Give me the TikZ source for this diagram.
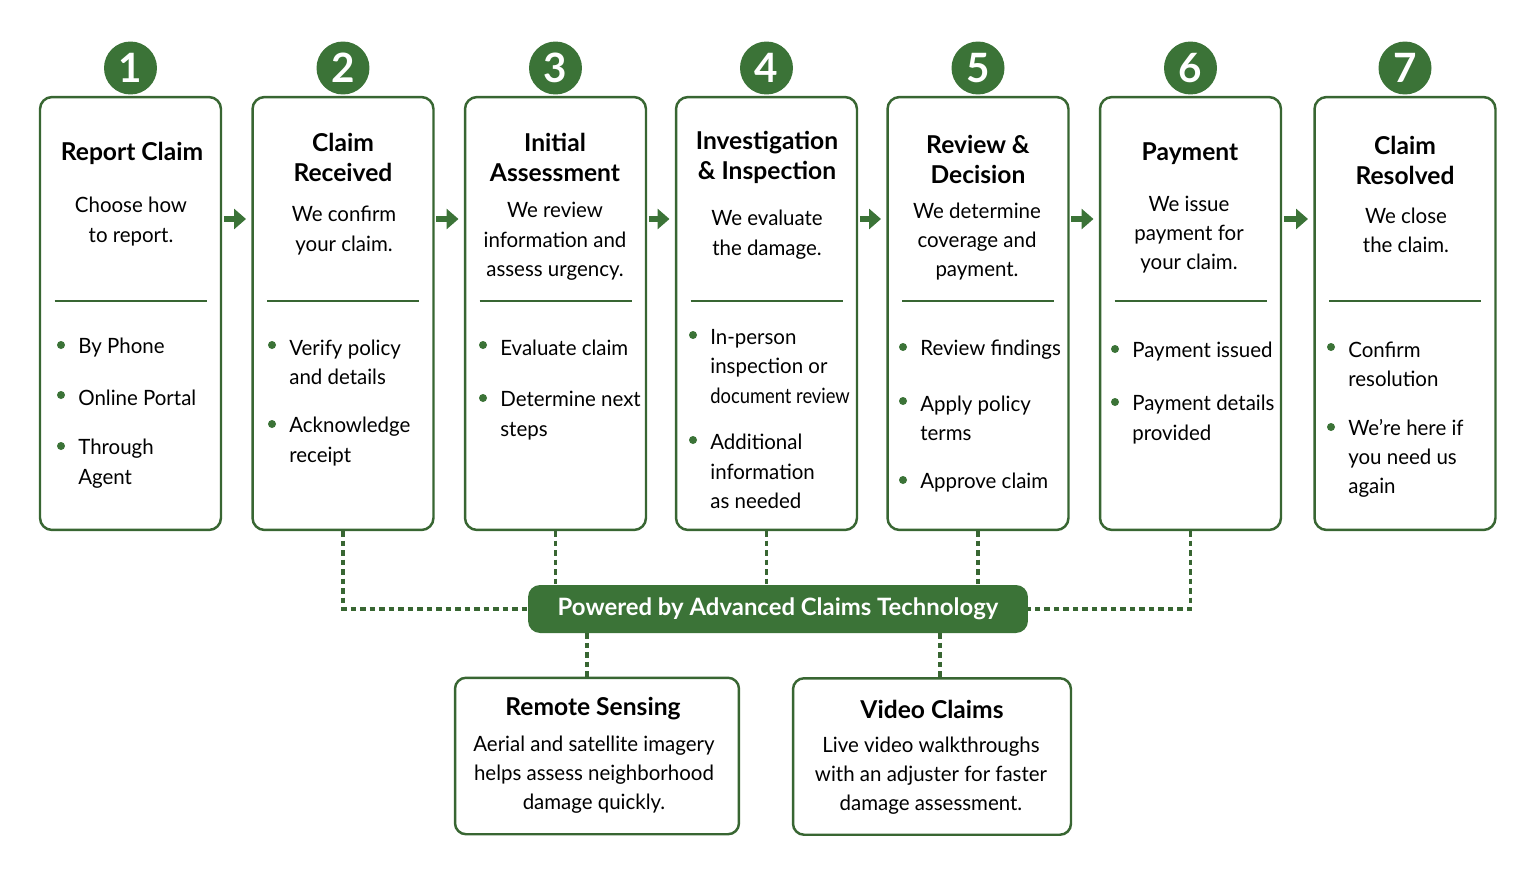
\documentclass[tikz,border=0pt]{standalone}
\usepackage{fontspec}
\setmainfont{Lato}
\newfontfamily\bodyfont[FakeStretch=0.97]{Lato}
\newfontfamily\squeezefont[FakeStretch=0.87]{Lato}
\usetikzlibrary{arrows.meta,positioning}

\definecolor{claimgreen}{RGB}{59,115,55}
\definecolor{claimedge}{RGB}{56,102,50}

\tikzset{
  stepbox/.style={draw=claimedge, line width=1.4pt, rounded corners=0.24cm,
    fill=white, minimum width=3.62cm, minimum height=8.66cm, inner sep=0pt},
  stepnum/.style={circle, fill=claimgreen, minimum size=1.06cm, inner sep=0pt,
    text=white, font=\fontsize{23}{23}\selectfont\bfseries},
  steptitle/.style={align=center, inner sep=0pt, yshift=-0.05cm,
    font=\fontsize{14}{17}\selectfont\bfseries},
  stepdesc/.style={align=center, inner sep=0pt, yshift=-0.05cm,
    font=\bodyfont\fontsize{12}{16.7}\selectfont},
  itemtext/.style={align=left, inner sep=0pt, anchor=west, yshift=-0.05cm,
    font=\bodyfont\fontsize{12}{16.7}\selectfont},
  sepline/.style={draw=claimedge, line width=1pt},
  flowarrow/.style={claimgreen, line width=0.12cm,
    -{Triangle[length=0.24cm,width=0.4cm]}, shorten <=1pt, shorten >=3pt},
  techbox/.style={fill=claimgreen, rounded corners=0.24cm, minimum width=10cm,
    minimum height=0.96cm, inner sep=0pt, text=white,
    font=\fontsize{13.6}{15}\selectfont\bfseries},
  toolbox/.style={draw=claimedge, line width=1.4pt, rounded corners=0.22cm,
    fill=white, minimum height=3.13cm, inner sep=0pt},
  techlink/.style={claimedge, line width=0.07cm, dash pattern=on 0.11cm off 0.08cm},
}

% bullet: name, dot x, first line y, centre y, text
\newcommand{\claimitem}[5]{%
  \fill[claimgreen] (#2,#3) circle (0.08cm);
  \node[itemtext] (#1) at (#2+17,#4) {#5};
}

\begin{document}
\begin{tikzpicture}[x=0.02cm,y=-0.02cm]
  \useasboundingbox (0,0) rectangle (1536,879);

  % steps
  \foreach \i/\cx in {1/130.5, 2/343, 3/555.5, 4/766.5, 5/978, 6/1190.5, 7/1405} {
    \node[stepbox] (box\i) at (\cx,313.5) {};
    \node[stepnum] (num\i) at (\cx,68) {\i};
    \draw[sepline] (\cx-76,301) -- (\cx+76,301);
  }
  \foreach \i/\j in {1/2, 2/3, 3/4, 4/5, 5/6, 6/7}
    \draw[flowarrow] (box\i.east |- 0,219) -- (box\j.west |- 0,219);

  % titles
  \node[steptitle] (title1) at (132,151) {Report Claim};
  \node[steptitle] (title2) at (343,155) {Claim\\Received};
  \node[steptitle] (title3) at (555,155) {Initial\\Assessment};
  \node[steptitle] (title4) at (767,155) {Investigation\\\& Inspection};
  \node[steptitle] (title5) at (978,157) {Review \&\\Decision};
  \node[steptitle] (title6) at (1190,151) {Payment};
  \node[steptitle] (title7) at (1405,158) {Claim\\Resolved};

  % descriptions
  \node[stepdesc] (desc1) at (131,219) {Choose how\\to report.};
  \node[stepdesc] (desc2) at (344,228) {We confirm\\your claim.};
  \node[stepdesc] (desc3) at (555,239) {We review\\information and\\assess urgency.};
  \node[stepdesc] (desc4) at (767,232) {We evaluate\\the damage.};
  \node[stepdesc] (desc5) at (977,239) {We determine\\coverage and\\payment.};
  \node[stepdesc] (desc6) at (1189,232) {We issue\\payment for\\your claim.};
  \node[stepdesc] (desc7) at (1406,228) {We close\\the claim.};

  % bullets
  \claimitem{item1a}{61}{345}{345}{By Phone}
  \claimitem{item1b}{61}{395}{395}{Online Portal}
  \claimitem{item1c}{61}{446}{461}{Through\\Agent}
  \claimitem{item2a}{272}{345}{360}{Verify policy\\and details}
  \claimitem{item2b}{272}{424}{439}{Acknowledge\\receipt}
  \claimitem{item3a}{483}{345}{345}{Evaluate claim}
  \claimitem{item3b}{483}{398}{413}{Determine next\\steps}
  \claimitem{item4a}{693}{335}{364}{In-person\\inspection or\\{\squeezefont document review}}
  \claimitem{item4b}{693}{440}{469}{Additional\\information\\as needed}
  \claimitem{item5a}{903}{347}{347}{Review findings}
  \claimitem{item5b}{903}{401}{415.5}{Apply policy\\terms}
  \claimitem{item5c}{903}{480}{480}{Approve claim}
  \claimitem{item6a}{1115}{349}{349}{Payment issued}
  \claimitem{item6b}{1115}{402}{417}{Payment details\\provided}
  \claimitem{item7a}{1331}{347}{361.5}{Confirm\\resolution}
  \claimitem{item7b}{1331}{427}{456}{We’re here if\\you need us\\again}

  % technology
  \node[techbox] (tech) at (778,609) {Powered by Advanced Claims Technology};
  \node[toolbox, minimum width=5.68cm] (remote) at (597,756) {};
  \node[toolbox, minimum width=5.56cm] (video) at (932,756.5) {};
  \node[steptitle] (remotetitle) at (593,706) {Remote Sensing};
  \node[stepdesc] (remotedesc) at (594,772) {Aerial and satellite imagery\\helps assess neighborhood\\damage quickly.};
  \node[steptitle] (videotitle) at (932,707) {Video Claims};
  \node[stepdesc] (videodesc) at (931,773) {Live video walkthroughs\\with an adjuster for faster\\damage assessment.};

  \coordinate (remotex) at (587,0);
  \coordinate (videox) at (940,0);
  \draw[techlink] (box2.south) |- (tech.west);
  \draw[techlink] (box6.south) |- (tech.east);
  \foreach \i in {3,4,5}
    \draw[techlink] (box\i.south) -- (box\i.south |- tech.north);
  \draw[techlink] (tech.south -| remotex) -- (remote.north -| remotex);
  \draw[techlink] (tech.south -| videox) -- (video.north -| videox);
\end{tikzpicture}
\end{document}
